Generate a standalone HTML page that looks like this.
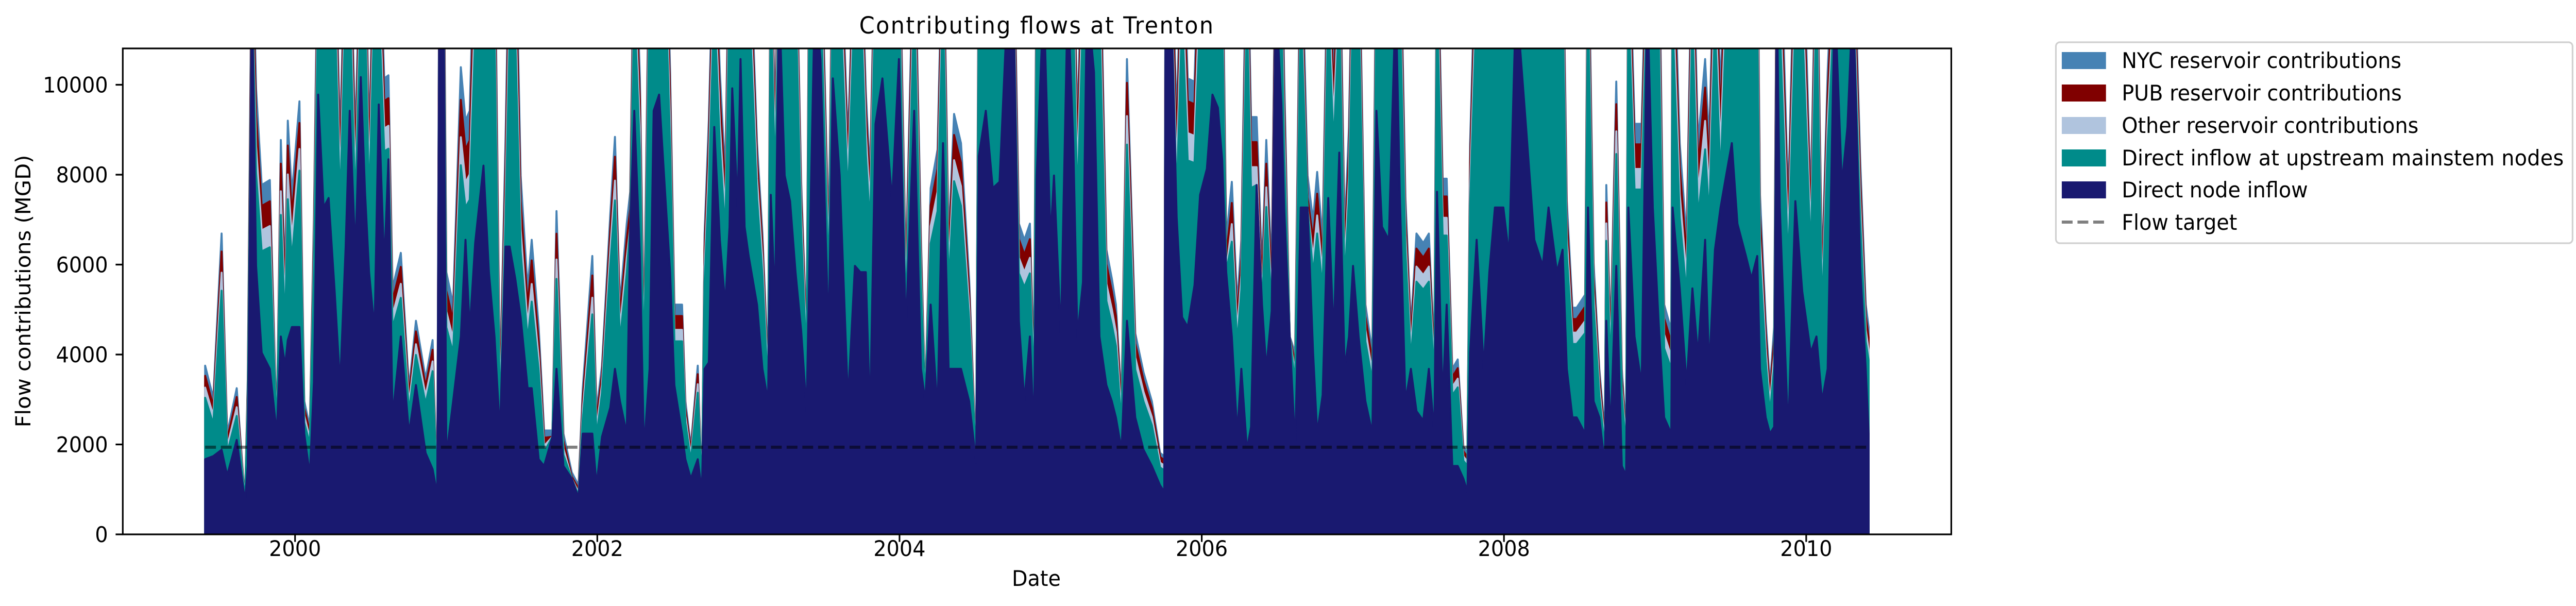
<!DOCTYPE html>
<html><head><meta charset="utf-8">
<style>
html,body{margin:0;padding:0;background:#fff;overflow:hidden;width:100%;height:100%;}
svg{display:block;font-family:"DejaVu Sans","Liberation Sans",sans-serif;width:100vw;height:100vh;}
</style></head>
<body>
<svg id="chart" viewBox="0 0 5245 1176" preserveAspectRatio="none" xmlns="http://www.w3.org/2000/svg">
<rect width="5245" height="1176" fill="#fff"/>
<defs><clipPath id="plotclip"><rect x="250" y="94" width="3723" height="943"/></clipPath></defs>
<text x="2110" y="65" font-size="45" text-anchor="middle" textLength="721">Contributing flows at Trenton</text>
<g id="layers" clip-path="url(#plotclip)"></g>
<line id="target" stroke="#000" stroke-opacity="0.5" stroke-width="6" stroke-dasharray="22,10"/>
<g id="yaxis"></g>
<g id="xaxis"></g>
<rect x="250" y="94" width="3723" height="943" fill="none" stroke="#000" stroke-width="3.3"/>
<text x="2110" y="1137" font-size="41.7" text-anchor="middle">Date</text>
<text transform="translate(62,565) rotate(-90)" font-size="41.7" text-anchor="middle">Flow contributions (MGD)</text>
<g>
<rect x="4186" y="82" width="1052" height="390" rx="8" fill="#fff" stroke="#d0d0d0" stroke-width="3.3"/>
<g><rect x="4198" y="101" width="90" height="33" fill="#4682B4"/><text x="4320" y="132" font-size="41.7">NYC reservoir contributions</text></g>
<g><rect x="4198" y="164" width="90" height="33" fill="#800000"/><text x="4320" y="195" font-size="41.7">PUB reservoir contributions</text></g>
<g><rect x="4198" y="227" width="90" height="33" fill="#B0C4DE"/><text x="4320" y="258" font-size="41.7">Other reservoir contributions</text></g>
<g><rect x="4198" y="290" width="90" height="33" fill="#008B8A"/><text x="4320" y="321" font-size="41.7" textLength="900">Direct inflow at upstream mainstem nodes</text></g>
<g><rect x="4198" y="352" width="90" height="33" fill="#191970"/><text x="4320" y="383" font-size="41.7">Direct node inflow</text></g>
<g><line x1="4198" y1="431" x2="4288" y2="431" stroke="#808080" stroke-width="6" stroke-dasharray="22,10"/><text x="4320" y="446" font-size="41.7">Flow target</text></g>
</g>
</svg>
<script>
const dates = [1999.405,1999.459,1999.514,1999.551,1999.614,1999.669,1999.687,1999.715,1999.742,1999.779,1999.833,1999.879,1999.906,1999.934,1999.952,1999.979,2000.029,2000.061,2000.098,2000.125,2000.153,2000.189,2000.222,2000.262,2000.298,2000.335,2000.362,2000.399,2000.435,2000.463,2000.490,2000.526,2000.554,2000.590,2000.618,2000.645,2000.700,2000.754,2000.800,2000.864,2000.910,2000.941,2000.955,2000.983,2001.001,2001.046,2001.097,2001.128,2001.156,2001.192,2001.247,2001.283,2001.320,2001.356,2001.393,2001.420,2001.457,2001.493,2001.539,2001.566,2001.612,2001.648,2001.703,2001.730,2001.776,2001.831,2001.876,2001.904,2001.967,2001.995,2002.031,2002.086,2002.117,2002.150,2002.195,
2002.218,2002.245,2002.282,2002.309,2002.346,2002.373,2002.409,2002.455,2002.482,2002.510,2002.561,2002.583,2002.619,2002.665,2002.692,2002.710,2002.738,2002.774,2002.811,2002.847,2002.875,2002.893,2002.929,2002.948,2002.975,2003.002,2003.057,2003.093,2003.130,2003.148,2003.176,2003.203,2003.240,2003.276,2003.312,2003.349,2003.385,2003.404,2003.440,2003.477,2003.531,2003.559,2003.604,2003.659,2003.705,2003.741,2003.777,2003.805,2003.841,2003.887,2003.914,2003.951,2003.996,2004.042,2004.097,2004.142,2004.170,2004.206,2004.252,2004.288,2004.325,2004.361,2004.407,2004.461,2004.507,2004.525,2004.571,2004.617,2004.662,2004.717,2004.753,2004.790,2004.826,2004.863,2004.890,2004.908,2004.954,2004.999,
2005.022,2005.068,2005.113,2005.150,2005.177,2005.214,2005.241,2005.287,2005.323,2005.369,2005.405,2005.432,2005.469,2005.505,2005.560,2005.615,2005.670,2005.724,2005.752,2005.761,2005.797,2005.834,2005.870,2005.907,2005.952,2005.989,2006.034,2006.071,2006.107,2006.135,2006.162,2006.199,2006.235,2006.262,2006.299,2006.326,2006.363,2006.399,2006.427,2006.463,2006.490,2006.527,2006.545,2006.582,2006.618,2006.655,2006.700,2006.737,2006.764,2006.800,2006.837,2006.873,2006.910,2006.946,2006.974,2007.001,2007.038,2007.083,2007.129,2007.156,2007.193,2007.238,2007.284,2007.311,2007.348,2007.384,2007.421,2007.466,2007.503,2007.539,2007.557,2007.594,2007.621,2007.658,2007.694,2007.731,2007.758,2007.776,
2007.819,2007.866,2007.903,2007.940,2007.996,2008.034,2008.080,2008.146,2008.201,2008.257,2008.295,2008.351,2008.388,2008.416,2008.453,2008.481,2008.537,2008.556,2008.593,2008.631,2008.668,2008.677,2008.705,2008.743,2008.780,2008.808,2008.823,2008.864,2008.911,2008.948,2008.985,2009.023,2009.060,2009.107,2009.116,2009.163,2009.209,2009.247,2009.284,2009.331,2009.358,2009.396,2009.433,2009.470,2009.508,2009.545,2009.601,2009.638,2009.676,2009.694,2009.732,2009.760,2009.788,2009.806,2009.825,2009.881,2009.928,2009.974,2010.030,2010.068,2010.105,2010.142,2010.189,2010.236,2010.273,2010.310,2010.357,2010.394,2010.413];
const totalFlow = [3750,3030,6690,2240,3250,730,3460,14000,9920,7770,7880,2310,8770,5690,9200,7550,9630,2960,2390,7050,14000,14000,14000,14000,8700,14000,14000,8700,14000,14000,8700,14000,14000,10140,10210,5470,6260,3250,4750,3460,4320,880,14000,14000,5830,5110,10390,9200,9420,14000,14000,14000,14000,3250,8840,14000,14000,7980,5470,6550,4610,2310,2310,7190,2240,1380,1090,3250,6190,2740,3750,7120,8840,5110,6910,
7620,14000,10140,4400,14000,14000,14000,14000,10280,5110,5110,2960,1950,3750,950,6690,9200,14000,10280,7980,14000,14000,14000,14000,14000,14000,8700,6690,3680,14000,9130,14000,14000,14000,14000,7840,4400,14000,14000,14000,6550,14000,14000,8700,14000,14000,9850,7980,14000,14000,14000,14000,14000,5830,14000,6550,2960,7700,8560,14000,6550,9350,8700,5690,1600,14000,14000,14000,14000,14000,14000,6910,6550,6910,3680,14000,14000,14000,
14000,14000,14000,14000,8990,14000,14000,14000,14000,6330,5690,5110,2960,10570,4470,3600,2960,1810,1740,14000,14000,9130,14000,10140,10070,14000,14000,14000,14000,14000,6550,7840,5110,6550,14000,9280,9280,5900,8770,5830,14000,14000,10280,4400,4040,14000,7980,6980,8060,6550,14000,10420,14000,6690,9060,14000,14000,5110,4040,14000,14000,14000,14000,14000,7480,4610,6690,6480,6690,4040,14000,7910,7910,3680,3890,1950,1810,8700,
14000,14000,14000,14000,14000,14000,14000,14000,14000,14000,14000,14000,14000,7410,5040,5040,5330,14000,6040,3680,2240,7770,4400,10070,3680,2240,14000,9130,9130,14000,14000,14000,5110,4540,14000,8700,6550,14000,8700,10570,8700,14000,9780,14000,14000,14000,14000,14000,14000,7550,4750,3320,4610,14000,14000,7410,14000,14000,7410,14000,5830,10280,14000,14000,14000,14000,8340,5110,4610];
const nodeInflow = [1670,1740,1880,1310,2100,730,1520,12000,5970,4040,3680,2240,4400,3750,4320,4610,4610,2240,1310,3390,9780,7270,7480,5400,3320,6400,9420,6260,10170,7620,5830,4540,9560,5970,8340,2600,4400,2240,3320,1810,1450,950,12000,12000,1740,2960,4400,6550,4540,6480,8200,5830,4400,2240,6400,6400,5690,4830,3250,3250,1670,1520,2170,3680,1520,1240,810,2240,2240,1090,2170,2820,3680,2960,2240,
6840,9420,6190,1880,3680,9420,9780,7270,5830,3320,2240,1670,1240,1670,950,3680,3820,9060,6550,5110,6840,9920,7270,10570,6840,6190,5110,3680,2960,7550,5110,12000,7980,7410,5830,4540,2740,6040,12000,10570,4400,10140,7980,2960,5970,5830,5830,2600,9130,10140,8990,7410,10570,4540,9420,3680,2960,5110,2740,8700,3680,3680,3680,2960,1600,8410,9420,7700,7840,12000,12000,4750,2960,4400,2240,7980,12000,6550,
7980,4400,12000,8700,4400,5610,12000,10280,4400,3320,2960,2600,1880,4750,2600,1880,1520,1090,950,12000,12000,7050,4830,4610,5540,7550,8130,9780,9490,8340,5830,4400,2240,3680,1880,2390,7770,5110,3680,4970,12000,9560,7270,4400,1950,7270,7270,4040,2240,3100,7480,4400,8490,3680,4400,5970,4400,2960,2240,9420,6840,6550,12000,7480,2960,3680,2740,2530,3680,2240,7620,2960,5110,1520,1520,1240,950,4040,
6550,3680,5830,7270,7270,6190,12000,9060,6550,5970,7270,5830,6330,3680,2600,2600,2240,7270,2960,2600,1520,4750,2240,5970,1520,1310,7270,4400,3320,12000,7270,4750,2600,2240,7270,5470,3320,5470,3960,6550,3680,6330,7270,7980,8700,6910,6190,5690,6190,3680,2600,2240,2390,12000,7270,2240,7410,5400,4040,4400,2960,3680,12000,7770,9060,12000,5970,3680,2240];
const shareYears = [1999,2000,2001,2002,2003,2004,2005,2006,2007,2008,2009,2010];
const nycShare = [0.06,0.05,0.07,0.05,0.04,0.05,0.05,0.06,0.05,0.05,0.06,0.05];
const pubShare = [0.07,0.06,0.08,0.06,0.05,0.06,0.07,0.06,0.06,0.06,0.07,0.06];
const otherShare = [0.06,0.05,0.06,0.05,0.05,0.05,0.06,0.05,0.05,0.05,0.06,0.05];
const flowTarget = 1938;
const yTicks = [0,2000,4000,6000,8000,10000];
const xTicks = [2000,2002,2004,2006,2008,2010];

const NS = "http://www.w3.org/2000/svg";
const X0 = 250, X1 = 3973, Y0 = 1037;
const xMin = 1998.860, xMax = 2010.960, yMax = 10808;
function xs(t){ return X0 + (t - xMin) / (xMax - xMin) * (X1 - X0); }
function ys(v){ return Y0 - v / yMax * (Y0 - 94); }
function share(arr, t){ const i = Math.max(0, Math.min(arr.length-1, Math.floor(t) - shareYears[0])); return arr[i]; }

const n = dates.length;
const node = [], upTop = [], othTop = [], pubTop = [], nycTop = [];
for (let i = 0; i < n; i++) {
  const t = dates[i], T = totalFlow[i];
  const sn = share(nycShare, t), sp = share(pubShare, t), so = share(otherShare, t);
  const nd = Math.min(nodeInflow[i], T);
  node.push(nd);
  pubTop.push(Math.max(nd, T * (1 - sn)));
  othTop.push(Math.max(nd, T * (1 - sn - sp)));
  upTop.push(Math.max(nd, T * (1 - sn - sp - so)));
  nycTop.push(T);
}
const layersG = document.getElementById('layers');
function area(tops, color, name){
  let d = 'M' + xs(dates[0]).toFixed(1) + ',' + Y0;
  for (let i = 0; i < n; i++) d += 'L' + xs(dates[i]).toFixed(1) + ',' + ys(tops[i]).toFixed(1);
  d += 'L' + xs(dates[n-1]).toFixed(1) + ',' + Y0 + 'Z';
  const p = document.createElementNS(NS, 'path');
  p.setAttribute('d', d);
  p.setAttribute('fill', color);
  p.setAttribute('stroke', color);
  p.setAttribute('stroke-width', '4');
  p.setAttribute('stroke-linejoin', 'round');
  
  
  layersG.appendChild(p);
}
area(nycTop, '#4682B4', 'area-nyc-reservoir');
area(pubTop, '#800000', 'area-pub-reservoir');
area(othTop, '#B0C4DE', 'area-other-reservoir');
area(upTop, '#008B8A', 'area-upstream-inflow');
area(node, '#191970', 'area-direct-node-inflow');

const tl = document.getElementById('target');
tl.setAttribute('x1', xs(dates[0]));
tl.setAttribute('x2', xs(dates[n-1]));
tl.setAttribute('y1', ys(flowTarget));
tl.setAttribute('y2', ys(flowTarget));

const yG = document.getElementById('yaxis');
yTicks.forEach(v => {
  const y = ys(v);
  const l = document.createElementNS(NS, 'line');
  l.setAttribute('x1', X0 - 14.6); l.setAttribute('x2', X0); l.setAttribute('y1', y); l.setAttribute('y2', y);
  l.setAttribute('stroke', '#000'); l.setAttribute('stroke-width', '3.3');
  
  
  yG.appendChild(l);
  const tx = document.createElementNS(NS, 'text');
  tx.setAttribute('x', X0 - 30); tx.setAttribute('y', y + 15);
  tx.setAttribute('font-size', '41.7'); tx.setAttribute('text-anchor', 'end');
  tx.textContent = String(v);
  
  
  yG.appendChild(tx);
});
const xG = document.getElementById('xaxis');
xTicks.forEach(v => {
  const x = xs(v);
  const l = document.createElementNS(NS, 'line');
  l.setAttribute('x1', x); l.setAttribute('x2', x); l.setAttribute('y1', Y0); l.setAttribute('y2', Y0 + 14.6);
  l.setAttribute('stroke', '#000'); l.setAttribute('stroke-width', '3.3');
  
  
  xG.appendChild(l);
  const tx = document.createElementNS(NS, 'text');
  tx.setAttribute('x', x); tx.setAttribute('y', 1079);
  tx.setAttribute('font-size', '41.7'); tx.setAttribute('text-anchor', 'middle');
  tx.textContent = String(v);
  
  
  xG.appendChild(tx);
});
</script>
</body></html>
